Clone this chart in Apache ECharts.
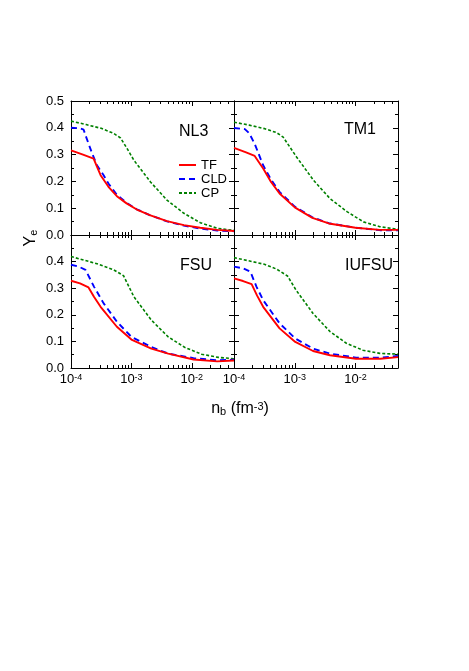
<!DOCTYPE html>
<html><head><meta charset="utf-8">
<script src="https://cdn.jsdelivr.net/npm/echarts@6/dist/echarts.min.js"></script>
<style>html,body{margin:0;padding:0;background:#fff}#c{width:469px;height:671px}</style>
</head><body><div id="c"></div>
<script>
// ---- data (n_b in fm^-3, Y_e) ----
const panelNames = ['NL3', 'TM1', 'FSU', 'IUFSU'];
const seriesNames = ['TF', 'CLD', 'CP'];
const xTickValues = [1e-4, 1e-3, 1e-2];
const yTickValues = [0, 0.1, 0.2, 0.3, 0.4, 0.5];

const nl3TF_n  = [1.00e-4, 1.58e-4, 2.37e-4, 2.69e-4, 3.09e-4, 4.17e-4, 5.75e-4, 8.32e-4, 1.23e-3, 2.07e-3, 3.89e-3, 7.41e-3, 1.38e-2, 2.63e-2, 5.0e-2];
const nl3TF_ye = [0.316, 0.300, 0.285, 0.255, 0.223, 0.180, 0.145, 0.118, 0.095, 0.073, 0.052, 0.037, 0.027, 0.019, 0.015];
const nl3CLD_n  = [1.00e-4, 1.41e-4, 1.62e-4, 1.74e-4, 1.95e-4, 2.24e-4, 2.69e-4, 3.47e-4, 4.17e-4, 5.75e-4, 8.32e-4, 1.23e-3, 2.07e-3, 3.89e-3, 7.41e-3, 1.38e-2, 2.63e-2, 5.0e-2];
const nl3CLD_ye = [0.400, 0.398, 0.393, 0.372, 0.341, 0.304, 0.260, 0.223, 0.192, 0.150, 0.120, 0.096, 0.073, 0.051, 0.035, 0.024, 0.017, 0.014];
const nl3CP_n  = [1.00e-4, 1.78e-4, 3.16e-4, 5.01e-4, 6.61e-4, 8.51e-4, 1.10e-3, 2.07e-3, 3.89e-3, 7.41e-3, 1.38e-2, 2.63e-2, 5.0e-2];
const nl3CP_ye = [0.425, 0.412, 0.398, 0.380, 0.362, 0.322, 0.279, 0.198, 0.130, 0.081, 0.046, 0.025, 0.017];

const tm1TF_n  = [1.00e-4, 1.58e-4, 2.19e-4, 3.02e-4, 4.07e-4, 5.62e-4, 1.00e-3, 1.95e-3, 3.63e-3, 1.00e-2, 2.51e-2, 5.0e-2];
const tm1TF_ye = [0.325, 0.308, 0.295, 0.248, 0.198, 0.155, 0.103, 0.064, 0.043, 0.027, 0.019, 0.019];
const tm1CLD_n  = [1.00e-4, 1.51e-4, 1.78e-4, 2.19e-4, 3.02e-4, 4.07e-4, 5.62e-4, 1.00e-3, 1.95e-3, 3.63e-3, 1.00e-2, 2.51e-2, 5.0e-2];
const tm1CLD_ye = [0.399, 0.395, 0.380, 0.340, 0.260, 0.207, 0.161, 0.106, 0.066, 0.044, 0.027, 0.018, 0.018];
const tm1CP_n  = [1.00e-4, 1.78e-4, 3.16e-4, 5.01e-4, 6.46e-4, 1.07e-3, 2.04e-3, 3.80e-3, 7.24e-3, 1.35e-2, 2.51e-2, 5.0e-2];
const tm1CP_ye = [0.421, 0.410, 0.397, 0.382, 0.365, 0.291, 0.204, 0.136, 0.087, 0.049, 0.031, 0.021];

const fsuTF_n  = [1.00e-4, 1.41e-4, 1.95e-4, 2.40e-4, 3.09e-4, 5.75e-4, 1.00e-3, 2.14e-3, 4.07e-3, 1.07e-2, 2.63e-2, 5.0e-2];
const fsuTF_ye = [0.328, 0.318, 0.303, 0.268, 0.230, 0.155, 0.107, 0.073, 0.054, 0.032, 0.025, 0.028];
const fsuCLD_n  = [1.00e-4, 1.32e-4, 1.74e-4, 2.40e-4, 3.47e-4, 5.75e-4, 1.00e-3, 2.14e-3, 4.07e-3, 1.07e-2, 2.63e-2, 5.0e-2];
const fsuCLD_ye = [0.388, 0.382, 0.369, 0.306, 0.243, 0.174, 0.117, 0.079, 0.054, 0.037, 0.029, 0.031];
const fsuCP_n  = [1.00e-4, 2.69e-4, 5.01e-4, 7.41e-4, 1.10e-3, 2.14e-3, 4.07e-3, 7.59e-3, 1.45e-2, 2.75e-2, 5.0e-2];
const fsuCP_ye = [0.419, 0.392, 0.370, 0.347, 0.268, 0.180, 0.117, 0.078, 0.052, 0.040, 0.035];

const iufsuTF_n  = [1.00e-4, 1.41e-4, 1.95e-4, 2.40e-4, 3.02e-4, 5.62e-4, 1.02e-3, 2.00e-3, 3.80e-3, 1.02e-2, 2.57e-2, 5.0e-2];
const iufsuTF_ye = [0.337, 0.327, 0.315, 0.272, 0.230, 0.149, 0.098, 0.064, 0.048, 0.035, 0.035, 0.041];
const iufsuCLD_n  = [1.00e-4, 1.41e-4, 1.86e-4, 2.34e-4, 3.02e-4, 5.62e-4, 1.02e-3, 2.00e-3, 3.80e-3, 1.02e-2, 2.57e-2, 5.0e-2];
const iufsuCLD_ye = [0.381, 0.375, 0.362, 0.306, 0.255, 0.168, 0.111, 0.073, 0.054, 0.039, 0.039, 0.045];
const iufsuCP_n  = [1.00e-4, 3.16e-4, 5.01e-4, 7.59e-4, 1.05e-3, 2.00e-3, 3.80e-3, 7.08e-3, 1.32e-2, 2.51e-2, 5.0e-2];
const iufsuCP_ye = [0.415, 0.390, 0.372, 0.346, 0.293, 0.205, 0.137, 0.093, 0.067, 0.055, 0.052];

const panelData = [
  [[nl3TF_n, nl3TF_ye], [nl3CLD_n, nl3CLD_ye], [nl3CP_n, nl3CP_ye]],
  [[tm1TF_n, tm1TF_ye], [tm1CLD_n, tm1CLD_ye], [tm1CP_n, tm1CP_ye]],
  [[fsuTF_n, fsuTF_ye], [fsuCLD_n, fsuCLD_ye], [fsuCP_n, fsuCP_ye]],
  [[iufsuTF_n, iufsuTF_ye], [iufsuCLD_n, iufsuCLD_ye], [iufsuCP_n, iufsuCP_ye]]
];

// ---- layout / style ----
const FONT = 'Arial, "Liberation Sans", sans-serif';
const X_MIN = 1e-4, X_MAX = 5e-2;
const grids = [
  {left: 71, top: 101, width: 163, height: 134},
  {left: 234, top: 101, width: 164, height: 134},
  {left: 71, top: 235, width: 163, height: 133},
  {left: 234, top: 235, width: 164, height: 133}
];
const lineStyles = [
  {color: '#ff0000', width: 1.9, type: 'solid'},
  {color: '#0000ff', width: 1.9, type: [6, 4]},
  {color: '#008000', width: 1.6, type: [3, 2]}
];
const minorX = [];
for (let d = -4; d <= -2; d++) for (let k = 2; k <= 9; k++) { const v = k * Math.pow(10, d); if (v < X_MAX) minorX.push(v); }

const axisLine = {show: true, onZero: false, lineStyle: {color: '#000', width: 1}};
const xAxes = [], yAxes = [], series = [];
grids.forEach((g, i) => {
  const bottomRow = i >= 2, leftCol = i % 2 === 0;
  ['bottom', 'top'].forEach(pos => {
    xAxes.push({
      type: 'log', logBase: 10, gridIndex: i, min: X_MIN, max: X_MAX, position: pos,
      axisLine: axisLine, splitLine: {show: false},
      axisTick: {show: true, inside: true, length: 5, customValues: xTickValues, lineStyle: {color: '#000', width: 1}},
      axisLabel: {
        show: bottomRow && pos === 'bottom', customValues: xTickValues, margin: 5,
        formatter: v => '{b|10}{s|' + Math.round(Math.log10(v)) + '}',
        rich: {
          b: {fontSize: 13, fontFamily: FONT, color: '#000', lineHeight: 13},
          s: {fontSize: 9, fontFamily: FONT, color: '#000', lineHeight: 9, verticalAlign: 'top', padding: [0, 0, 8, 0]}
        }
      }
    });
    xAxes.push({
      type: 'log', logBase: 10, gridIndex: i, min: X_MIN, max: X_MAX, position: pos,
      axisLine: {show: false, onZero: false}, splitLine: {show: false},
      axisTick: {show: true, inside: true, length: 3, customValues: minorX, lineStyle: {color: '#000', width: 1}},
      axisLabel: {show: false}
    });
  });
  ['left', 'right'].forEach(pos => {
    yAxes.push({
      type: 'value', gridIndex: i, min: 0, max: 0.5, interval: 0.1, position: pos,
      axisLine: axisLine, splitLine: {show: false},
      axisTick: {show: true, inside: true, length: 5, lineStyle: {color: '#000', width: 1}},
      minorTick: {show: true, splitNumber: 2, length: 3, lineStyle: {color: '#000', width: 1}},
      axisLabel: {
        show: leftCol && pos === 'left', margin: 7, color: '#000', fontSize: 13, fontFamily: FONT,
        formatter: v => (bottomRow && v > 0.45) ? '' : v.toFixed(1)
      }
    });
  });
  panelData[i].forEach((s, j) => {
    series.push({
      type: 'line', name: seriesNames[j], xAxisIndex: 4 * i, yAxisIndex: 2 * i,
      data: s[0].map((n, k) => [n, s[1][k]]),
      symbol: 'none', smooth: false, lineStyle: lineStyles[j], color: lineStyles[j].color,
      z: 10 - j
    });
  });
});

const panelLabelPos = [[179, 133], [344, 131], [180, 267], [345, 267]];
const graphics = panelNames.map((t, i) => ({
  type: 'text', left: panelLabelPos[i][0], top: panelLabelPos[i][1] - 9,
  style: {text: t, fontSize: 16, fontFamily: FONT, fill: '#000'}
}));
graphics.push({
  type: 'text', x: 31, y: 238, rotation: Math.PI / 2,
  style: {
    text: '{a|Y}{b|e}', align: 'center', verticalAlign: 'middle',
    rich: {
      a: {fontSize: 16, fontFamily: FONT, fill: '#000', lineHeight: 16, verticalAlign: 'top'},
      b: {fontSize: 11, fontFamily: FONT, fill: '#000', lineHeight: 11, verticalAlign: 'bottom', padding: [8, 0, 0, 0]}
    }
  }
});
graphics.push({
  type: 'text', x: 240, y: 409,
  style: {
    text: '{a|n}{b|b}{a| (fm}{c|-3}{a|)}', align: 'center', verticalAlign: 'middle',
    rich: {
      a: {fontSize: 16, fontFamily: FONT, fill: '#000', lineHeight: 16},
      b: {fontSize: 11, fontFamily: FONT, fill: '#000', lineHeight: 11, verticalAlign: 'bottom', padding: [8, 0, 0, 0]},
      c: {fontSize: 11, fontFamily: FONT, fill: '#000', lineHeight: 11, verticalAlign: 'top', padding: [0, 0, 8, 0]}
    }
  }
});

const chart = echarts.init(document.getElementById('c'), null, {renderer: 'canvas'});
chart.setOption({
  animation: false,
  backgroundColor: '#fff',
  grid: grids,
  xAxis: xAxes,
  yAxis: yAxes,
  legend: {
    data: seriesNames, orient: 'vertical', left: 178, top: 158, padding: 0,
    itemWidth: 17, itemHeight: 12, itemGap: 0, selectedMode: false,
    itemStyle: {opacity: 0},
    textStyle: {fontSize: 13, fontFamily: FONT, color: '#000', lineHeight: 14}
  },
  graphic: graphics,
  series: series
});
</script></body></html>
